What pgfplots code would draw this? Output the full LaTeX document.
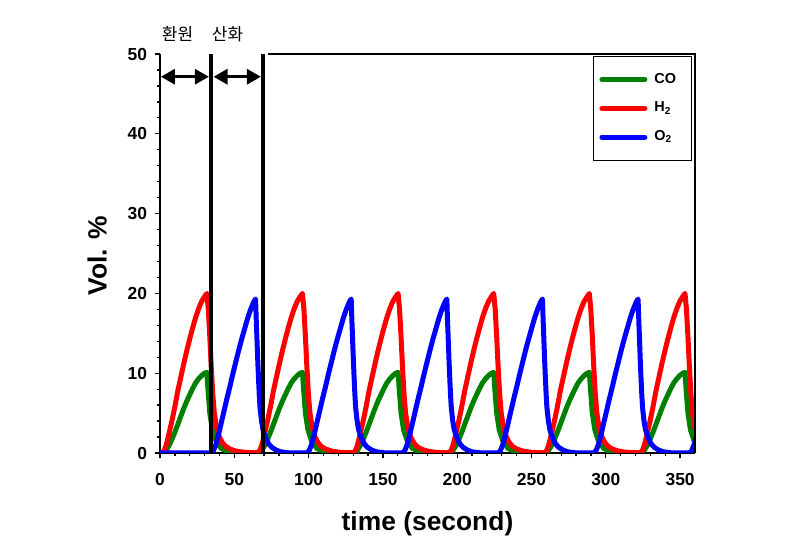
\documentclass[border=0pt]{standalone}
\usepackage{pgfplots}
\pgfplotsset{compat=1.18}
\usepackage{fontspec}
\setmainfont{Liberation Sans}
\newfontfamily\kr{Noto Sans CJK KR}
\usetikzlibrary{arrows.meta}
\definecolor{cgreen}{RGB}{0,128,0}
\definecolor{cred}{RGB}{255,0,0}
\definecolor{cblue}{RGB}{0,0,255}

\begin{document}
\begin{tikzpicture}
\useasboundingbox (0,0) rectangle (801bp,549bp);
\begin{axis}[
 at={(160bp,96bp)}, anchor=south west,
 scale only axis, width=535bp, height=399bp,
 xmin=0, xmax=360, ymin=0, ymax=50,
 axis x line*=bottom, axis y line*=left,
 xtick={0,50,...,350}, ytick={0,10,...,50},
 minor x tick num=4, minor y tick num=4,
 tick align=outside,
 major tick length=5.5bp, minor tick length=3.5bp,
 tick style={black, line width=1.3bp},
 axis line style={black, line width=1.8bp},
 tick label style={font=\fontsize{17.5}{20}\selectfont\bfseries},
 xticklabel style={yshift=-11bp},
 yticklabel style={xshift=-4bp},
 /pgf/number format/assume math mode=true,
 clip mode=individual,
 legend style={at={(1,1)}, anchor=north east, xshift=-3bp, yshift=-2bp,
   draw=black, line width=1.2bp, font=\fontsize{14.5}{17}\selectfont\bfseries,
   inner xsep=6bp, inner ysep=14bp, row sep=10.8bp,
   nodes={inner sep=2bp, text height=10.5bp, text depth=3.5bp, text width=29bp, align=left},
   cells={anchor=west},
   /tikz/every odd column/.append style={column sep=5bp}},
 legend image code/.code={\draw[#1] (0bp,0bp) -- (43bp,0bp);},
 every axis plot/.append style={line width=5bp, line join=round, line cap=round},
]
% CO
\addplot[cgreen] coordinates {
(0,0)(2,0)(4,0.3)(6,0.9)(8,1.7)(10,2.6)(12,3.6)(14,4.6)(16,5.6)(18,6.5)(20,7.3)(22,8.1)(24,8.8)(26,9.3)(28,9.7)(30,10.0)(31.5,10.1)(32.3,7.9)(33.5,5.0)(35.2,2.9)(37.5,1.6)(41,0.6)(44.5,0.25)(50,0.06)(56,0)
(64.35,0)(66.35,0)(68.35,0.3)(70.35,0.9)(72.35,1.7)(74.35,2.6)(76.35,3.6)(78.35,4.6)(80.35,5.6)(82.35,6.5)(84.35,7.3)(86.35,8.1)(88.35,8.8)(90.35,9.3)(92.35,9.7)(94.35,10.0)(95.85,10.1)(96.65,7.9)(97.85,5.0)(99.55,2.9)(101.85,1.6)(105.35,0.6)(108.85,0.25)(114.35,0.06)(120.35,0)
(128.7,0)(130.7,0)(132.7,0.3)(134.7,0.9)(136.7,1.7)(138.7,2.6)(140.7,3.6)(142.7,4.6)(144.7,5.6)(146.7,6.5)(148.7,7.3)(150.7,8.1)(152.7,8.8)(154.7,9.3)(156.7,9.7)(158.7,10.0)(160.2,10.1)(161.0,7.9)(162.2,5.0)(163.9,2.9)(166.2,1.6)(169.7,0.6)(173.2,0.25)(178.7,0.06)(184.7,0)
(193.05,0)(195.05,0)(197.05,0.3)(199.05,0.9)(201.05,1.7)(203.05,2.6)(205.05,3.6)(207.05,4.6)(209.05,5.6)(211.05,6.5)(213.05,7.3)(215.05,8.1)(217.05,8.8)(219.05,9.3)(221.05,9.7)(223.05,10.0)(224.55,10.1)(225.35,7.9)(226.55,5.0)(228.25,2.9)(230.55,1.6)(234.05,0.6)(237.55,0.25)(243.05,0.06)(249.05,0)
(257.4,0)(259.4,0)(261.4,0.3)(263.4,0.9)(265.4,1.7)(267.4,2.6)(269.4,3.6)(271.4,4.6)(273.4,5.6)(275.4,6.5)(277.4,7.3)(279.4,8.1)(281.4,8.8)(283.4,9.3)(285.4,9.7)(287.4,10.0)(288.9,10.1)(289.7,7.9)(290.9,5.0)(292.6,2.9)(294.9,1.6)(298.4,0.6)(301.9,0.25)(307.4,0.06)(313.4,0)
(321.75,0)(323.75,0)(325.75,0.3)(327.75,0.9)(329.75,1.7)(331.75,2.6)(333.75,3.6)(335.75,4.6)(337.75,5.6)(339.75,6.5)(341.75,7.3)(343.75,8.1)(345.75,8.8)(347.75,9.3)(349.75,9.7)(351.75,10.0)(353.25,10.1)(354.05,7.9)(355.25,5.0)(356.95,2.9)(359.25,1.6)(362.75,0.6)
};
\addlegendentry{CO}
% H2
\addplot[cred] coordinates {
(0,0.02)(2,0.1)(3,0.4)(4,0.9)(5,1.6)(6,2.4)(7,3.2)(8,4.0)(10,5.8)(12,7.8)(14,9.5)(16,11.2)(18,12.8)(20,14.3)(22,15.7)(24,17.0)(26,18.1)(28,19.0)(30,19.6)(31.5,20.0)(32.5,18.0)(33.5,14.6)(34.5,10.7)(35.5,7.4)(36.5,5.1)(38,3.2)(40,2.0)(42,1.3)(44,0.85)(47,0.5)(51,0.25)(56,0.1)(62,0.04)
(64.35,0.02)(66.35,0.1)(67.35,0.4)(68.35,0.9)(69.35,1.6)(70.35,2.4)(71.35,3.2)(72.35,4.0)(74.35,5.8)(76.35,7.8)(78.35,9.5)(80.35,11.2)(82.35,12.8)(84.35,14.3)(86.35,15.7)(88.35,17.0)(90.35,18.1)(92.35,19.0)(94.35,19.6)(95.85,20.0)(96.85,18.0)(97.85,14.6)(98.85,10.7)(99.85,7.4)(100.85,5.1)(102.35,3.2)(104.35,2.0)(106.35,1.3)(108.35,0.85)(111.35,0.5)(115.35,0.25)(120.35,0.1)(126.35,0.04)
(128.7,0.02)(130.7,0.1)(131.7,0.4)(132.7,0.9)(133.7,1.6)(134.7,2.4)(135.7,3.2)(136.7,4.0)(138.7,5.8)(140.7,7.8)(142.7,9.5)(144.7,11.2)(146.7,12.8)(148.7,14.3)(150.7,15.7)(152.7,17.0)(154.7,18.1)(156.7,19.0)(158.7,19.6)(160.2,20.0)(161.2,18.0)(162.2,14.6)(163.2,10.7)(164.2,7.4)(165.2,5.1)(166.7,3.2)(168.7,2.0)(170.7,1.3)(172.7,0.85)(175.7,0.5)(179.7,0.25)(184.7,0.1)(190.7,0.04)
(193.05,0.02)(195.05,0.1)(196.05,0.4)(197.05,0.9)(198.05,1.6)(199.05,2.4)(200.05,3.2)(201.05,4.0)(203.05,5.8)(205.05,7.8)(207.05,9.5)(209.05,11.2)(211.05,12.8)(213.05,14.3)(215.05,15.7)(217.05,17.0)(219.05,18.1)(221.05,19.0)(223.05,19.6)(224.55,20.0)(225.55,18.0)(226.55,14.6)(227.55,10.7)(228.55,7.4)(229.55,5.1)(231.05,3.2)(233.05,2.0)(235.05,1.3)(237.05,0.85)(240.05,0.5)(244.05,0.25)(249.05,0.1)(255.05,0.04)
(257.4,0.02)(259.4,0.1)(260.4,0.4)(261.4,0.9)(262.4,1.6)(263.4,2.4)(264.4,3.2)(265.4,4.0)(267.4,5.8)(269.4,7.8)(271.4,9.5)(273.4,11.2)(275.4,12.8)(277.4,14.3)(279.4,15.7)(281.4,17.0)(283.4,18.1)(285.4,19.0)(287.4,19.6)(288.9,20.0)(289.9,18.0)(290.9,14.6)(291.9,10.7)(292.9,7.4)(293.9,5.1)(295.4,3.2)(297.4,2.0)(299.4,1.3)(301.4,0.85)(304.4,0.5)(308.4,0.25)(313.4,0.1)(319.4,0.04)
(321.75,0.02)(323.75,0.1)(324.75,0.4)(325.75,0.9)(326.75,1.6)(327.75,2.4)(328.75,3.2)(329.75,4.0)(331.75,5.8)(333.75,7.8)(335.75,9.5)(337.75,11.2)(339.75,12.8)(341.75,14.3)(343.75,15.7)(345.75,17.0)(347.75,18.1)(349.75,19.0)(351.75,19.6)(353.25,20.0)(354.25,18.0)(355.25,14.6)(356.25,10.7)(357.25,7.4)(358.25,5.1)(359.75,3.2)(361.75,2.0)
};
\addlegendentry{H\textsubscript{2}}
% O2
\addplot[cblue] coordinates {
(0,0)(34.5,0)(36,0.3)(37.5,1.0)(39,2.0)(41,3.6)(43,5.2)(45,6.8)(47,8.3)(49,9.9)(51,11.4)(53,12.9)(55,14.3)(57,15.6)(59,16.9)(61,18.0)(63,18.9)(64.3,19.3)(64.8,16.5)(65.3,14.0)(65.8,11.5)(66.3,9.3)(66.8,7.3)(67.3,5.7)(68.3,4.0)(69.3,2.9)(71.3,1.8)(73.3,1.1)(75.3,0.7)(78.3,0.35)(81.3,0.15)(86.3,0.03)(92.3,0)
(98.85,0)(100.35,0.3)(101.85,1.0)(103.35,2.0)(105.35,3.6)(107.35,5.2)(109.35,6.8)(111.35,8.3)(113.35,9.9)(115.35,11.4)(117.35,12.9)(119.35,14.3)(121.35,15.6)(123.35,16.9)(125.35,18.0)(127.35,18.9)(128.65,19.3)(129.15,16.5)(129.65,14.0)(130.15,11.5)(130.65,9.3)(131.15,7.3)(131.65,5.7)(132.65,4.0)(133.65,2.9)(135.65,1.8)(137.65,1.1)(139.65,0.7)(142.65,0.35)(145.65,0.15)(150.65,0.03)(156.65,0)
(163.2,0)(164.7,0.3)(166.2,1.0)(167.7,2.0)(169.7,3.6)(171.7,5.2)(173.7,6.8)(175.7,8.3)(177.7,9.9)(179.7,11.4)(181.7,12.9)(183.7,14.3)(185.7,15.6)(187.7,16.9)(189.7,18.0)(191.7,18.9)(193.0,19.3)(193.5,16.5)(194.0,14.0)(194.5,11.5)(195.0,9.3)(195.5,7.3)(196.0,5.7)(197.0,4.0)(198.0,2.9)(200.0,1.8)(202.0,1.1)(204.0,0.7)(207.0,0.35)(210.0,0.15)(215.0,0.03)(221.0,0)
(227.55,0)(229.05,0.3)(230.55,1.0)(232.05,2.0)(234.05,3.6)(236.05,5.2)(238.05,6.8)(240.05,8.3)(242.05,9.9)(244.05,11.4)(246.05,12.9)(248.05,14.3)(250.05,15.6)(252.05,16.9)(254.05,18.0)(256.05,18.9)(257.35,19.3)(257.85,16.5)(258.35,14.0)(258.85,11.5)(259.35,9.3)(259.85,7.3)(260.35,5.7)(261.35,4.0)(262.35,2.9)(264.35,1.8)(266.35,1.1)(268.35,0.7)(271.35,0.35)(274.35,0.15)(279.35,0.03)(285.35,0)
(291.9,0)(293.4,0.3)(294.9,1.0)(296.4,2.0)(298.4,3.6)(300.4,5.2)(302.4,6.8)(304.4,8.3)(306.4,9.9)(308.4,11.4)(310.4,12.9)(312.4,14.3)(314.4,15.6)(316.4,16.9)(318.4,18.0)(320.4,18.9)(321.7,19.3)(322.2,16.5)(322.7,14.0)(323.2,11.5)(323.7,9.3)(324.2,7.3)(324.7,5.7)(325.7,4.0)(326.7,2.9)(328.7,1.8)(330.7,1.1)(332.7,0.7)(335.7,0.35)(338.7,0.15)(343.7,0.03)(349.7,0)
(356.25,0)(357.75,0.3)(359.25,1.0)(360.75,2.0)
};
\addlegendentry{O\textsubscript{2}}
% phase markers
\draw[black, line width=4.5bp] (axis cs:34.45,0) -- (axis cs:34.45,50);
\draw[black, line width=4.5bp] (axis cs:69.4,0) -- (axis cs:69.4,50);
\draw[black, line width=3bp, {Triangle[length=14bp,width=15bp]}-{Triangle[length=14bp,width=15bp]}] (axis cs:0.6,47.15) -- (axis cs:32.9,47.15);
\draw[black, line width=3bp, {Triangle[length=14bp,width=15bp]}-{Triangle[length=14bp,width=15bp]}] (axis cs:36,47.15) -- (axis cs:67.9,47.15);
% remaining frame
\draw[black, line width=1.8bp] (axis cs:72.9,50) -- (axis cs:360,50) -- (axis cs:360,0);
\end{axis}
\node[font=\kr\fontsize{17}{20}\selectfont] at (177.5bp,515bp) {환원};
\node[font=\kr\fontsize{17}{20}\selectfont] at (227.5bp,515bp) {산화};
\node[anchor=base, font=\fontsize{26.5}{30}\selectfont\bfseries] at (427.5bp,19bp) {time (second)};
\node[anchor=base, rotate=90, font=\fontsize{26.5}{30}\selectfont\bfseries] at (106.7bp,293.5bp) {Vol. \%};
\end{tikzpicture}
\end{document}
